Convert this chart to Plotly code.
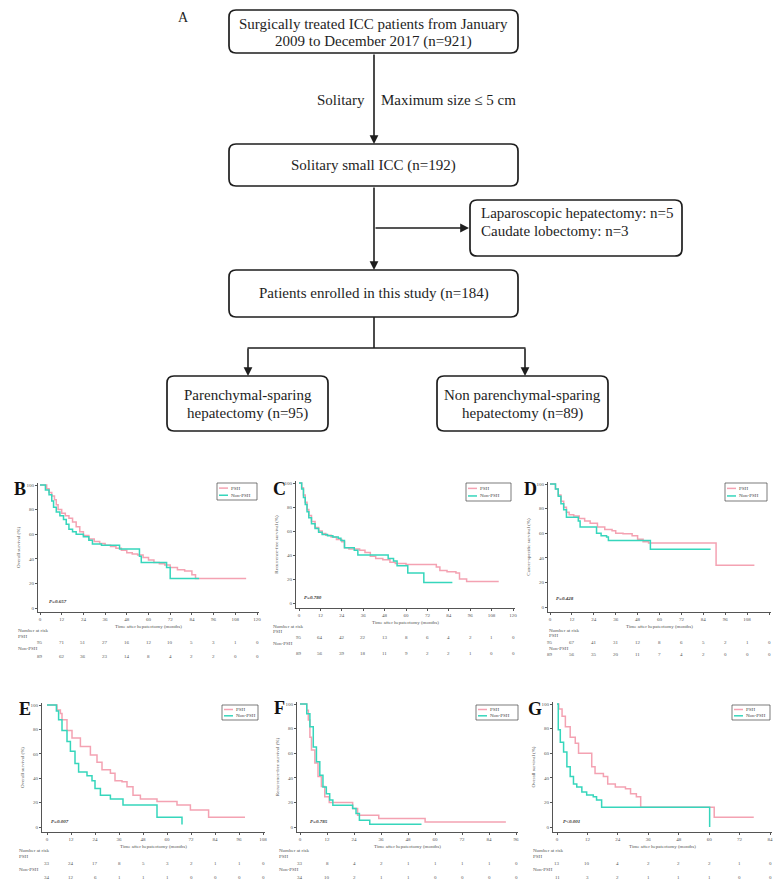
import plotly.graph_objects as go

W, H = 773, 883

# ------------------------------------------------------------------ data
GROUPS = ["PSH", "Non-PSH"]
XTITLE = "Time after hepatectomy (months)"

# Panel B  (overall survival, cohort)
B_ticks = [0, 12, 24, 36, 48, 60, 72, 84, 96, 108, 120]
B_psh_t = [0, 3.7, 5, 6.5, 8, 9, 10, 12, 14, 16, 18, 20, 22, 24, 27, 30, 33, 36, 39, 42, 45, 48, 51, 54, 57, 60, 63, 66, 69, 72, 76, 80, 84, 86, 114]
B_psh_s = [100, 97, 94, 91, 88, 84, 80, 77, 75, 73, 70, 66, 62, 59, 56, 54, 52.5, 51, 50, 48.5, 47, 45, 44, 43, 41, 39, 37, 36, 35, 33, 31, 30, 27, 24, 24]
B_non_t = [0, 3, 5, 6.5, 7.5, 9, 11, 13, 14.5, 16, 18, 20, 24, 27, 29, 34, 40, 44, 53, 55, 56, 68, 70, 72, 88]
B_non_s = [100, 96, 92, 87, 82, 78, 75, 72, 68, 64, 62, 60, 58, 55, 52, 51, 51, 48, 48, 42, 37, 37, 33, 24, 24]
B_risk_psh = [95, 71, 51, 27, 16, 12, 10, 5, 3, 1, 0]
B_risk_non = [89, 62, 36, 23, 14, 8, 4, 2, 2, 0, 0]
B_p = "P=0.657"
B_ytitle = "Overall survival (%)"

# Panel C  (recurrence-free survival, cohort)
C_ticks = [0, 12, 24, 36, 48, 60, 72, 84, 96, 108, 120]
C_psh_t = [0, 1.5, 2.5, 3.5, 4.5, 5.5, 7, 9, 11, 13, 15, 18, 21, 24, 25.5, 28, 31, 34, 37, 40, 43, 47, 51, 54, 60, 71, 77, 79, 83, 88, 90, 94, 112]
C_psh_s = [100, 96, 90, 84, 78, 73, 68, 63, 60, 58, 56.5, 55, 53, 51, 46, 45, 45, 44, 42, 39, 37, 36, 34, 33, 32, 32, 30, 27, 26, 25, 20, 18, 18]
C_non_t = [0, 1.5, 2.5, 3.5, 4.5, 5.5, 7, 9, 11, 13, 16, 19, 22, 23.5, 25.5, 31, 33, 47, 50, 53, 55, 60, 61, 69, 70, 86]
C_non_s = [100, 95, 88, 82, 76, 71, 66, 62, 59, 57, 56, 55, 54, 52, 46, 44, 40, 40, 37, 35, 31, 31, 25, 25, 17, 17]
C_risk_psh = [95, 64, 42, 22, 13, 8, 6, 4, 2, 1, 0]
C_risk_non = [89, 56, 39, 18, 11, 9, 2, 2, 1, 0, 0]
C_p = "P=0.780"
C_ytitle = "Recurrence-free survival (%)"

# Panel D  (cancer-specific survival, cohort)
D_ticks = [0, 12, 24, 36, 48, 60, 72, 84, 96, 108, 120]
D_psh_t = [0, 3, 4.5, 6, 7.5, 9, 10.5, 13, 16, 19, 22, 26, 30, 34, 36, 40, 45, 48, 51, 54, 90, 91, 112]
D_psh_s = [100, 96, 91, 86, 81, 77, 75, 74, 72, 70, 68, 65, 63, 62, 60, 59.5, 58, 55, 53, 52, 52, 34, 34]
D_non_t = [0, 3, 4.5, 6, 7.5, 9, 15.5, 16.5, 24, 25.5, 28, 31, 32, 54, 55, 88]
D_non_s = [100, 96, 90, 84, 79, 73, 70, 65, 65, 60, 58, 57, 54, 54, 47, 47]
D_risk_psh = [95, 67, 41, 31, 12, 8, 6, 5, 2, 1, 0]
D_risk_non = [89, 56, 35, 20, 11, 7, 4, 2, 0, 0, 0]
D_p = "P=0.428"
D_ytitle = "Cancer-specific survival (%)"

# Panel E  (overall survival, subgroup)
E_ticks = [0, 12, 24, 36, 48, 60, 72, 84, 96, 108]
E_psh_t = [0, 5, 6.7, 7.5, 10, 12.5, 16.7, 21.7, 25, 27.5, 31.7, 34, 37.5, 40, 43, 46.7, 55, 65, 71.7, 80.8, 99]
E_psh_s = [100, 96, 93, 88, 79, 73, 66, 59, 53, 47, 44, 38, 37, 33, 26, 23, 21, 18, 14, 8, 8]
E_non_t = [0, 4.7, 5.8, 7.5, 10, 11.7, 14, 15.8, 20, 22.5, 24, 26.7, 31.7, 38, 55, 67.5]
E_non_s = [100, 95, 88, 79, 70, 62, 52, 45, 42, 38, 31.5, 26, 23, 18, 8, 2]
E_risk_psh = [33, 24, 17, 8, 5, 3, 2, 1, 1, 0]
E_risk_non = [34, 12, 6, 1, 1, 1, 0, 0, 0, 0]
E_p = "P=0.007"
E_ytitle = "Overall survival (%)"

# Panel F  (recurrence-free survival, subgroup)
F_ticks = [0, 12, 24, 36, 48, 60, 72, 84, 96]
F_psh_t = [0, 3, 3.7, 4.4, 5.1, 6.6, 8, 9.5, 11, 13, 22, 23.4, 25.6, 35, 55.6, 91.5]
F_psh_s = [100, 95, 87, 73, 62.5, 52, 41, 33, 24.5, 20, 20, 15, 9.5, 7, 4, 4]
F_non_t = [0, 3, 4.4, 5.9, 7.3, 8.8, 10.2, 11.7, 13.2, 14.6, 22.5, 23.4, 24.9, 26.4, 31, 54]
F_non_s = [100, 92, 81.5, 65, 53, 42, 32.6, 27, 22, 17.7, 17.7, 15, 11, 5.4, 2.2, 2.2]
F_risk_psh = [33, 8, 4, 2, 1, 1, 1, 1, 0]
F_risk_non = [34, 10, 2, 1, 1, 0, 0, 0, 0]
F_p = "P=0.785"
F_ytitle = "Recurrence-free survival (%)"

# Panel G  (overall survival, subgroup)
G_ticks = [0, 12, 24, 36, 48, 60, 72, 84]
G_psh_t = [0, 0.7, 2, 3.3, 5.2, 7.2, 8.5, 13.7, 15, 18.3, 20, 23, 27, 29, 31.3, 33, 60, 62, 77.6]
G_psh_s = [100, 96, 90, 81.5, 73, 68, 60, 49, 43.5, 41, 35, 32.6, 31, 27, 24.5, 16, 16, 8, 8]
G_non_t = [0, 0.5, 1.3, 2.6, 3.9, 5.2, 6.5, 7.8, 9.8, 11.7, 14.3, 15.6, 17.6, 60, 60.2]
G_non_s = [100, 79, 69, 61, 49, 41, 35, 32.6, 28.5, 26, 24.5, 22, 16, 16, 0]
G_risk_psh = [13, 10, 4, 2, 2, 2, 1, 0]
G_risk_non = [11, 3, 2, 1, 1, 1, 0, 0]
G_p = "P<0.001"
G_ytitle = "Overall survival (%)"

# flowchart texts
FLOW_TEXT = {
    "top": "Surgically treated ICC patients from January<br>2009 to December 2017 (n=921)",
    "crit_l": "Solitary",
    "crit_r": "Maximum size \u2264 5 cm",
    "small": "Solitary small ICC (n=192)",
    "excl": "Laparoscopic hepatectomy: n=5<br>Caudate lobectomy: n=3",
    "enrolled": "Patients enrolled in this study (n=184)",
    "psh": "Parenchymal-sparing<br>hepatectomy (n=95)",
    "non": "Non parenchymal-sparing<br>hepatectomy (n=89)",
}

# ------------------------------------------------------------------ style / geometry
PSH_COLOR = "#f4a2b2"
NON_COLOR = "#36d6bc"
INK = "#1e1e1e"
SERIF = "Liberation Serif, Times New Roman, serif"
FS = 15


def px(x):
    return x / W


def py(y):
    return 1 - y / H


fig = go.Figure()
shapes = []
annots = []


def text(x, y, s, size=FS, xanchor="center", family=SERIF, color=INK):
    annots.append(dict(x=px(x), y=py(y), xref="paper", yref="paper", text=s, showarrow=False,
                       xanchor=xanchor, yanchor="middle", align="left" if xanchor == "left" else "center",
                       font=dict(family=family, size=size, color=color)))


def rbox(x0, y0, x1, y1, r=7):
    X0, X1, Y0, Y1 = px(x0), px(x1), py(y0), py(y1)
    rx, ry = r / W, r / H
    path = (f"M {X0+rx},{Y0} L {X1-rx},{Y0} Q {X1},{Y0} {X1},{Y0-ry} "
            f"L {X1},{Y1+ry} Q {X1},{Y1} {X1-rx},{Y1} L {X0+rx},{Y1} Q {X0},{Y1} {X0},{Y1+ry} "
            f"L {X0},{Y0-ry} Q {X0},{Y0} {X0+rx},{Y0} Z")
    shapes.append(dict(type="path", path=path, xref="paper", yref="paper",
                       line=dict(color=INK, width=1.7), fillcolor="rgba(0,0,0,0)"))


def seg(x0, y0, x1, y1, w=1.6):
    shapes.append(dict(type="line", xref="paper", yref="paper", x0=px(x0), y0=py(y0), x1=px(x1), y1=py(y1),
                       line=dict(color=INK, width=w)))


def arrow(xt, yt, xh, yh):
    annots.append(dict(x=px(xh), y=py(yh), xref="paper", yref="paper", ax=xt - xh, ay=yt - yh,
                       text="", showarrow=True, arrowhead=2, arrowsize=1.1, arrowwidth=1.6, arrowcolor=INK,
                       standoff=0))


# ------------------------------------------------------------------ flowchart (A)
text(183, 17, "A", size=14)
rbox(229, 10, 518, 53)
text(373.5, 24, FLOW_TEXT["top"].split("<br>")[0])
text(373.5, 41.5, FLOW_TEXT["top"].split("<br>")[1])
arrow(374, 53, 374, 144)
text(367, 100, FLOW_TEXT["crit_l"], xanchor="right")
text(379, 100, FLOW_TEXT["crit_r"], xanchor="left")
rbox(229, 144, 518, 186)
text(373.5, 165, FLOW_TEXT["small"])
arrow(374, 186, 374, 270)
arrow(374, 228, 469, 228)
rbox(470, 200, 682, 256)
text(479, 213, FLOW_TEXT["excl"].split("<br>")[0], xanchor="left")
text(479, 231, FLOW_TEXT["excl"].split("<br>")[1], xanchor="left")
rbox(229, 270, 518, 317)
text(373.5, 294, FLOW_TEXT["enrolled"])
seg(374, 317, 374, 348)
seg(247.5, 348, 525.5, 348)
arrow(248, 347, 248, 376)
arrow(525, 347, 525, 376)
rbox(167, 376, 328, 431)
text(247.5, 395, FLOW_TEXT["psh"].split("<br>")[0])
text(247.5, 413, FLOW_TEXT["psh"].split("<br>")[1])
rbox(437, 376, 608, 431)
text(522.5, 395, FLOW_TEXT["non"].split("<br>")[0])
text(522.5, 413, FLOW_TEXT["non"].split("<br>")[1])

# ------------------------------------------------------------------ KM panels
panels = [
    dict(letter="B", ticks=B_ticks, psh=(B_psh_t, B_psh_s), non=(B_non_t, B_non_s), risk=(B_risk_psh, B_risk_non),
         p=B_p, ytitle=B_ytitle,
         g=dict(yline=38, x0=40, x1=257, y100=485, y0=608, xline=612, let=(12, 489), pv=(47, 601),
                leg=(217, 483, 40, 17), rx=16, ry=(630, 636, 642, 648, 656))),
    dict(letter="C", ticks=C_ticks, psh=(C_psh_t, C_psh_s), non=(C_non_t, C_non_s), risk=(C_risk_psh, C_risk_non),
         p=C_p, ytitle=C_ytitle,
         g=dict(yline=296, x0=299, x1=513, y100=483, y0=603, xline=608, let=(271, 489), pv=(302, 597),
                leg=(466, 483, 45, 18), rx=271, ry=(626, 631, 637, 643, 653))),
    dict(letter="D", ticks=D_ticks, psh=(D_psh_t, D_psh_s), non=(D_non_t, D_non_s), risk=(D_risk_psh, D_risk_non),
         p=D_p, ytitle=D_ytitle,
         g=dict(yline=548, x0=550, x1=769, y100=484, y0=607, xline=612, let=(522, 489), pv=(554, 598),
                leg=(725, 483, 42, 18), rx=547, ry=(630, 635, 642, 648, 654))),
    dict(letter="E", ticks=E_ticks, psh=(E_psh_t, E_psh_s), non=(E_non_t, E_non_s), risk=(E_risk_psh, E_risk_non),
         p=E_p, ytitle=E_ytitle,
         g=dict(yline=42, x0=47, x1=263, y100=705, y0=827, xline=832, let=(17, 709), pv=(49, 821),
                leg=(222, 705, 36, 15), rx=17, ry=(850, 856, 863, 869, 877))),
    dict(letter="F", ticks=F_ticks, psh=(F_psh_t, F_psh_s), non=(F_non_t, F_non_s), risk=(F_risk_psh, F_risk_non),
         p=F_p, ytitle=F_ytitle,
         g=dict(yline=297, x0=300, x1=516, y100=704, y0=827, xline=832, let=(272, 708), pv=(308, 821),
                leg=(476, 705, 42, 15), rx=277, ry=(850, 856, 863, 869, 877))),
    dict(letter="G", ticks=G_ticks, psh=(G_psh_t, G_psh_s), non=(G_non_t, G_non_s), risk=(G_risk_psh, G_risk_non),
         p=G_p, ytitle=G_ytitle,
         g=dict(yline=553, x0=557, x1=770, y100=704, y0=827, xline=832, let=(526, 709), pv=(561, 821),
                leg=(732, 705, 38, 15), rx=531, ry=(850, 856, 863, 869, 877))),
]

layout_axes = {}
for i, pnl in enumerate(panels, start=1):
    g = pnl["g"]
    ticks = pnl["ticks"]
    xmax = ticks[-1]
    sx = (g["x1"] - g["x0"]) / xmax
    dom_l, dom_r = g["yline"], min(g["x1"] + 2, W - 1)
    xr = [(dom_l - g["x0"]) / sx, (dom_r - g["x0"]) / sx]
    sy = (g["y0"] - g["y100"]) / 100
    dom_t, dom_b = g["y100"] - 2, g["xline"]
    yr = [(g["y0"] - dom_b) / sy, (g["y0"] - dom_t) / sy]
    xa = "x" if i == 1 else f"x{i}"
    ya = "y" if i == 1 else f"y{i}"
    axis_common = dict(showline=True, linecolor="#555", linewidth=0.8, ticks="outside", ticklen=2,
                       tickwidth=0.6, tickcolor="#555", showgrid=False, zeroline=False, automargin=False,
                       tickfont=dict(family=SERIF, size=5, color="#555"),
                       title_font=dict(family=SERIF, size=5, color="#555"))
    layout_axes["xaxis" if i == 1 else f"xaxis{i}"] = dict(
        axis_common, domain=[px(dom_l), px(dom_r)], range=xr, anchor=ya, tickvals=ticks,
        title=dict(text=XTITLE, standoff=3))
    layout_axes["yaxis" if i == 1 else f"yaxis{i}"] = dict(
        axis_common, domain=[py(dom_b), py(dom_t)], range=yr, anchor=xa, tickvals=[0, 20, 40, 60, 80, 100],
        title=dict(text=pnl["ytitle"], standoff=5))

    for (tt, ss), col in ((pnl["psh"], PSH_COLOR), (pnl["non"], NON_COLOR)):
        fig.add_trace(go.Scatter(x=tt, y=ss, mode="lines", line=dict(color=col, width=1.5, shape="hv"),
                                 xaxis=xa, yaxis=ya, showlegend=False, hoverinfo="skip"))

    # panel letter & p value
    annots.append(dict(x=px(g["let"][0]), y=py(g["let"][1]), xref="paper", yref="paper", text="<b>" + pnl["letter"] + "</b>",
                       showarrow=False, xanchor="left", yanchor="middle",
                       font=dict(family=SERIF, size=18, color="#111")))
    annots.append(dict(x=px(g["pv"][0]), y=py(g["pv"][1]), xref="paper", yref="paper", text="<b><i>" + pnl["p"] + "</i></b>",
                       showarrow=False, xanchor="left", yanchor="middle",
                       font=dict(family=SERIF, size=5, color="#333")))

    # legend box
    lx, ly, lw, lh = g["leg"]
    shapes.append(dict(type="rect", xref="paper", yref="paper", x0=px(lx), x1=px(lx + lw), y0=py(ly), y1=py(ly + lh),
                       line=dict(color="#444", width=0.7), fillcolor="white"))
    for k, (name, col) in enumerate(zip(GROUPS, (PSH_COLOR, NON_COLOR))):
        ry_ = ly + lh * (0.3 if k == 0 else 0.72)
        shapes.append(dict(type="line", xref="paper", yref="paper", x0=px(lx + 2), x1=px(lx + 11),
                           y0=py(ry_), y1=py(ry_), line=dict(color=col, width=1.5)))
        annots.append(dict(x=px(lx + 12), y=py(ry_), xref="paper", yref="paper", text=name, showarrow=False,
                           xanchor="left", yanchor="middle", font=dict(family=SERIF, size=5, color="#444")))

    # number at risk table
    r0, r1, r2, r3, r4 = g["ry"]
    for yy, s in ((r0, "Number at risk"), (r1, GROUPS[0]), (r3, GROUPS[1])):
        annots.append(dict(x=px(g["rx"]), y=py(yy), xref="paper", yref="paper", text=s, showarrow=False,
                           xanchor="left", yanchor="middle", font=dict(family=SERIF, size=5, color="#555")))
    for yy, vals in ((r2, pnl["risk"][0]), (r4, pnl["risk"][1])):
        for t, v in zip(ticks, vals):
            annots.append(dict(x=t, y=py(yy), xref=xa, yref="paper", text=str(v), showarrow=False,
                               xanchor="center", yanchor="middle", font=dict(family=SERIF, size=5, color="#555")))

fig.update_layout(
    width=W, height=H, margin=dict(l=0, r=0, t=0, b=0),
    paper_bgcolor="white", plot_bgcolor="white",
    showlegend=False, shapes=shapes, annotations=annots,
    **layout_axes,
)

fig.write_html("out.html", config={"displayModeBar": False},
               post_script="document.body.style.margin='0';document.body.style.overflow='hidden';")
